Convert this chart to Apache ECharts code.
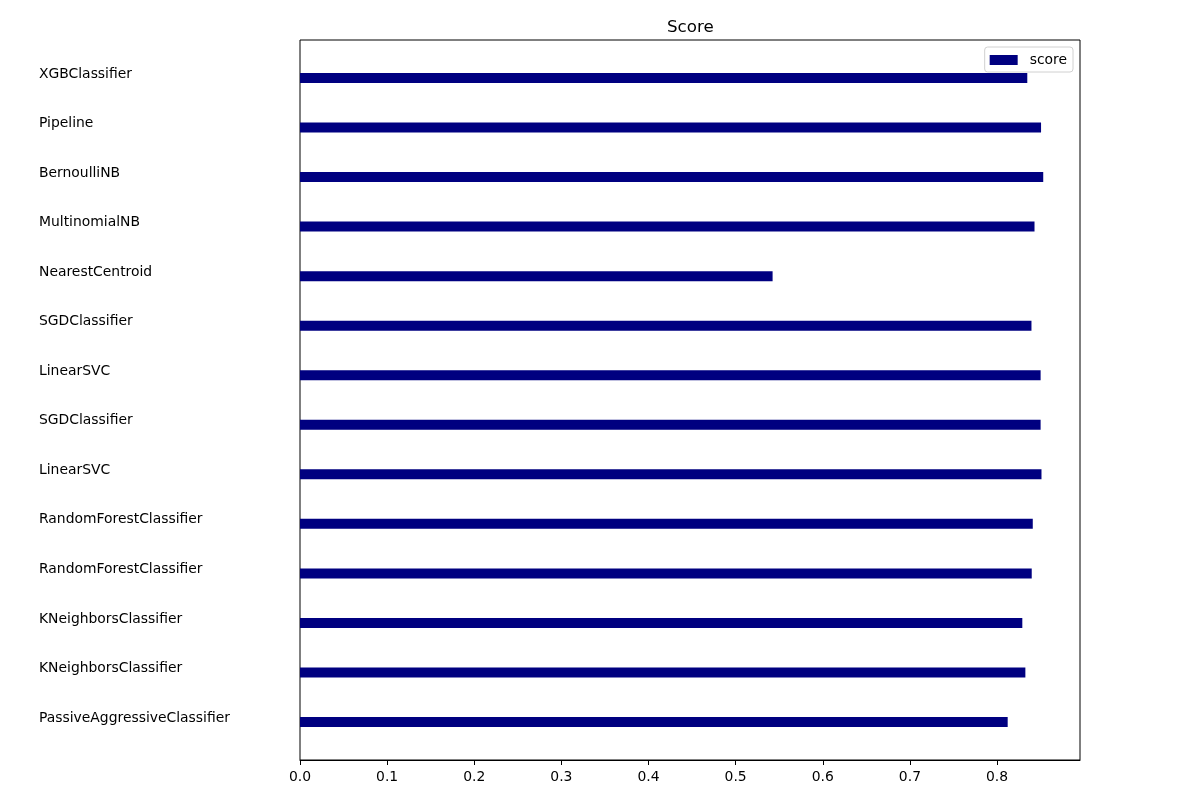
<!DOCTYPE html>
<html>
<head>
<meta charset="utf-8">
<script src="https://cdn.jsdelivr.net/npm/echarts@6/dist/echarts.min.js"></script>
<style>html,body{margin:0;padding:0;background:#fff}#c{width:1200px;height:800px}</style>
</head>
<body>
<div id="c"></div>
<script>
const categories = ['XGBClassifier','Pipeline','BernoulliNB','MultinomialNB','NearestCentroid','SGDClassifier','LinearSVC','SGDClassifier','LinearSVC','RandomForestClassifier','RandomForestClassifier','KNeighborsClassifier','KNeighborsClassifier','PassiveAggressiveClassifier'];
const scores = [0.8347,0.8505,0.8530,0.8430,0.5424,0.8395,0.8500,0.8500,0.8510,0.8410,0.8398,0.8290,0.8325,0.8122];
const xTicks = [0,0.1,0.2,0.3,0.4,0.5,0.6,0.7,0.8];
const xMax = 0.8952;
const font = 'DejaVu Sans';

const chart = echarts.init(document.getElementById('c'), null, {renderer:'canvas'});
chart.setOption({
  animation:false,
  backgroundColor:'#fff',
  title:{text:'Score', left:667, top:19, padding:0,
    textStyle:{fontFamily:font, fontSize:16.7, fontWeight:'normal', color:'#000'}},
  legend:{data:['score'], right:127, top:47, itemWidth:28, itemHeight:10, itemGap:8,
    icon:'rect', padding:[6,6,5,5], borderColor:'#d0d0d0', borderWidth:1, borderRadius:3,
    backgroundColor:'rgba(255,255,255,0.8)',
    textStyle:{fontFamily:font, fontSize:13.9, color:'#000', padding:[0,0,0,7]}},
  grid:[
    {left:300, right:120, top:40, bottom:40, show:true, borderColor:'#000', borderWidth:1, backgroundColor:'transparent'},
    {left:300, right:120, top:53.2, bottom:53.2}
  ],
  xAxis:[
    {gridIndex:0, type:'value', min:0, max:xMax, interval:0.1,
      axisLine:{show:true, lineStyle:{color:'#000', width:1}},
      axisTick:{show:true, length:5, inside:false, lineStyle:{color:'#000'}},
      splitLine:{show:false},
      axisLabel:{fontFamily:font, fontSize:13.9, color:'#000', margin:10, showMaxLabel:false,
        formatter:v => xTicks.some(t=>Math.abs(t-v)<1e-9) ? v.toFixed(1) : ''}},
    {gridIndex:1, type:'value', min:0, max:xMax, show:false}
  ],
  yAxis:[
    {gridIndex:0, type:'value', min:0, max:1, show:false},
    {gridIndex:1, type:'category', data:categories, inverse:true,
      axisLine:{show:false}, axisTick:{show:false}, splitLine:{show:false},
      axisLabel:{fontFamily:font, fontSize:13.9, color:'#000', align:'left', margin:261,
        verticalAlign:'bottom', lineHeight:8}}
  ],
  series:[{
    name:'score', type:'bar', xAxisIndex:1, yAxisIndex:1, data:scores,
    barWidth:10, itemStyle:{color:'#000080'}
  }]
});
</script>
</body>
</html>
